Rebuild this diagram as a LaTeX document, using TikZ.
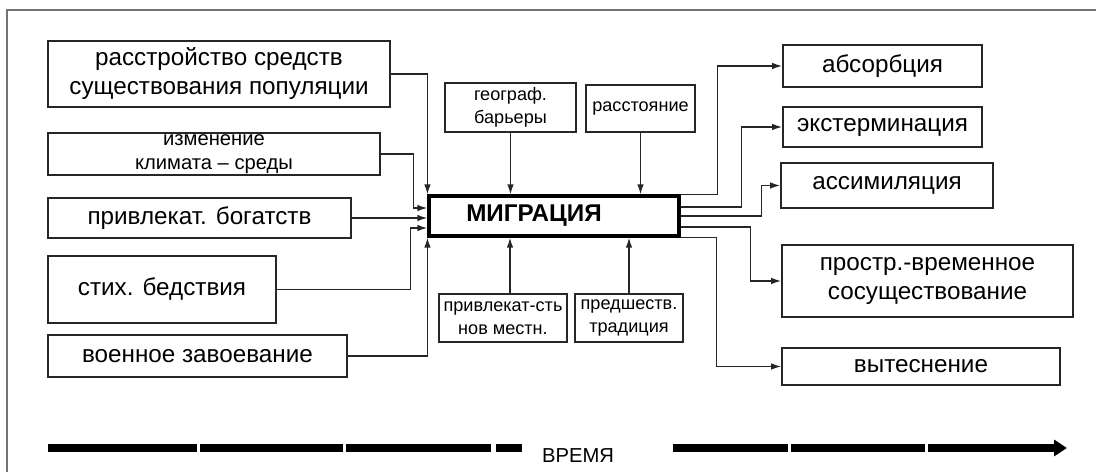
\documentclass[tikz,border=0pt]{standalone}
\usepackage{fontspec}
\setmainfont{Liberation Sans}
\usetikzlibrary{positioning,arrows.meta}

\begin{document}
\begin{tikzpicture}[x=0.02cm,y=-0.02cm,
  box/.style={draw=black!85,line width=0.9pt,align=center,inner sep=1pt,
    font=\fontsize{13.8}{16.5}\selectfont},
  small/.style={box,font=\fontsize{10.3}{13}\selectfont},
  core/.style={draw=black,line width=1.8pt,inner sep=1pt,
    font=\bfseries\fontsize{13.8}{16}\selectfont},
  link/.style={-{Latex[length=2mm,width=1.3mm]},draw=black!85,line width=0.8pt},
  timebar/.style={draw=black,line width=4.5pt},
  frame/.style={draw=black!55,line width=0.9pt}]
\useasboundingbox (0,0) rectangle (1096,472);
\draw[frame] (7,472) -- (7,10) -- (1096,10);
% causes
\node[box,minimum width=6.84cm,minimum height=1.32cm] (rasstr) at (219,74) {расстройство средств\\существования популяции};
\node[box,minimum width=6.64cm,minimum height=0.84cm,inner ysep=0pt,font=\fontsize{11.5}{13.5}\selectfont] (klimat) at (214,154) {изменение\\климата – среды};
\node[box,minimum width=6.06cm,minimum height=0.8cm] (bogat) at (199.5,218) {привлекат. богатств};
\node[box,minimum width=4.56cm,minimum height=1.34cm] (bedstv) at (162,289.5) {стих. бедствия};
\node[box,minimum width=5.98cm,minimum height=0.84cm] (voen) at (197.5,356) {военное завоевание};
\node[core,minimum width=5cm,minimum height=0.8cm] (migr) at (554,216) {\hspace*{-0.8cm}МИГРАЦИЯ};
% factors
\node[small,minimum width=2.62cm,minimum height=0.98cm] (geo) at (510.5,107.5) {географ.\\барьеры};
\node[small,minimum width=2.18cm,minimum height=0.94cm] (rasst) at (640.5,108.5) {расстояние};
\node[small,minimum width=2.56cm,minimum height=0.96cm] (privl) at (503,318) {привлекат-сть\\нов местн.};
\node[small,minimum width=2.16cm,minimum height=0.96cm] (tradic) at (629,318) {предшеств.\\традиция};
% results
\node[box,minimum width=3.98cm,minimum height=0.84cm] (absorb) at (882.5,66) {абсорбция};
\node[box,minimum width=3.98cm,minimum height=0.8cm] (exterm) at (882.5,127) {экстерминация};
\node[box,minimum width=4.24cm,minimum height=0.9cm] (assim) at (887,185.5) {ассимиляция};
\node[box,minimum width=5.82cm,minimum height=1.44cm] (prostr) at (927.5,281) {простр.-временное\\сосуществование};
\node[box,minimum width=5.56cm,minimum height=0.74cm] (vytesn) at (921,366.5) {вытеснение};
\coordinate (in2) at ([yshift=0.16cm]migr.west);
\coordinate (in4) at ([yshift=-0.24cm]migr.west);
\coordinate (out2) at ([yshift=0.18cm]migr.east);
\coordinate (out4) at ([yshift=-0.22cm]migr.east);
\draw[link] (rasstr.east) -| (migr.north west);
\draw[link] (klimat.east) -- ++(33,0) |- (in2);
\draw[link] (bogat.east) -- (bogat.east -| migr.west);
\draw[link] (bedstv.east) -- ++(134,0) |- (in4);
\draw[link] (voen.east) -| (migr.south west);
\draw[link] (geo.south) -- (geo.south |- migr.north);
\draw[link] (rasst.south) -- (rasst.south |- migr.north);
\draw[link] ([xshift=0.14cm]privl.north) -- ([xshift=0.14cm]privl.north |- migr.south);
\draw[link] (tradic.north) -- (tradic.north |- migr.south);
\draw[link] (migr.north east) -- ++(37,0) |- (absorb.west);
\draw[link] (out2) -- ++(61,0) |- (exterm.west);
\draw[link] (migr.east) -- ++(81,0) |- (assim.west);
\draw[link] (out4) -- ++(70,0) |- (prostr.west);
\draw[link] (migr.south east) -- ++(36,0) |- (vytesn.west);
% time axis
\node[font=\fontsize{11.5}{13}\selectfont] (vremya) at (578,456) {ВРЕМЯ};
\draw[timebar] (48,448) -- (197,448) (200,448) -- (343,448) (346,448) -- (491,448) (496,448) -- (522,448);
\draw[timebar] (673,448) -- (788,448) (791,448) -- (925,448);
\draw[timebar,-{Triangle[length=0.26cm,width=0.32cm]}] (928,448) -- (1067,448);
\end{tikzpicture}
\end{document}
